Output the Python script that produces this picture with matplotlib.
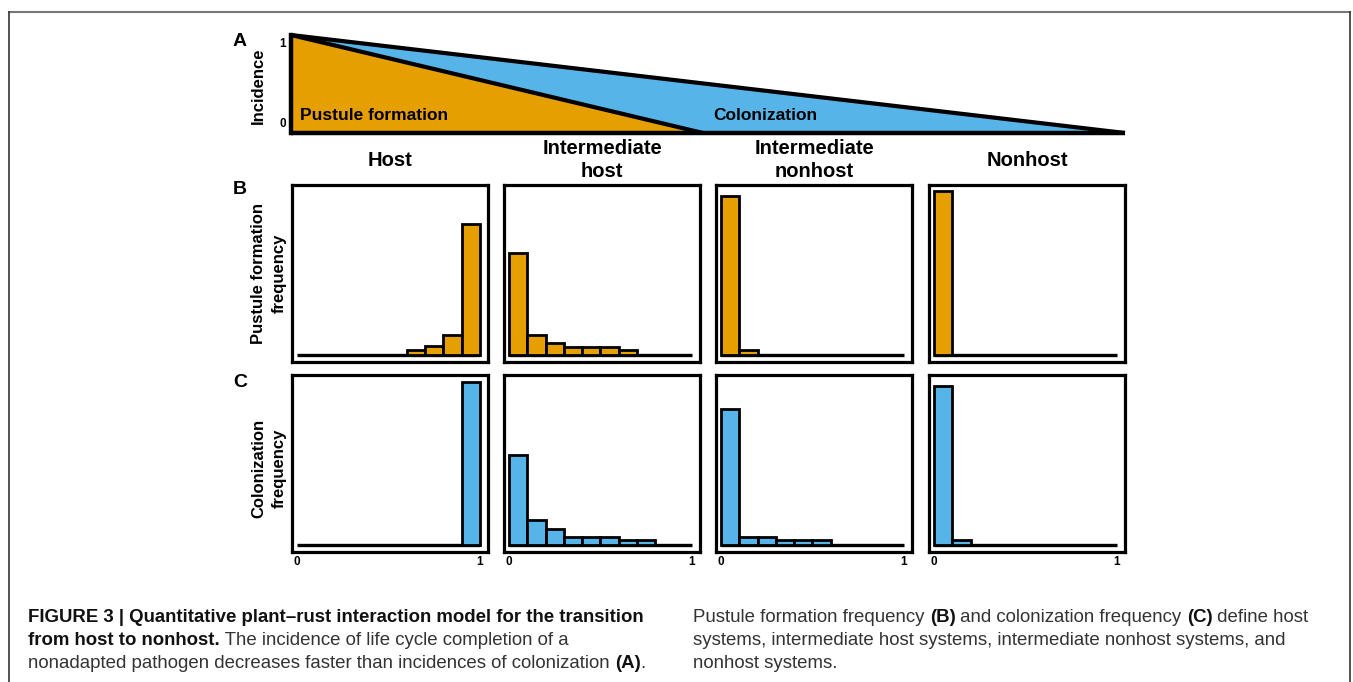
import numpy as np
import matplotlib
matplotlib.use("Agg")
import matplotlib.pyplot as plt
from matplotlib.lines import Line2D

plt.rcParams['font.family'] = ['Liberation Sans', 'DejaVu Sans']

# data
columns = ["Host", "Intermediate\nhost", "Intermediate\nnonhost", "Nonhost"]
bin_edges = np.linspace(0, 1, 11)

# panel A: incidence falls from 1 to 0
pustule_x = [0, 0.494]
pustule_y = [1, 0]
colonization_x = [0, 1]
colonization_y = [1, 0]

# panel B: pustule formation frequency per bin (10 bins, 0..1)
pustule_freq = [
    [0, 0, 0, 0, 0, 0, 0.03, 0.055, 0.12, 0.80],
    [0.62, 0.12, 0.075, 0.05, 0.05, 0.05, 0.03, 0, 0, 0],
    [0.97, 0.03, 0, 0, 0, 0, 0, 0, 0, 0],
    [1.0, 0, 0, 0, 0, 0, 0, 0, 0, 0],
]
# panel C: colonization frequency per bin
colonization_freq = [
    [0, 0, 0, 0, 0, 0, 0, 0, 0, 0.995],
    [0.55, 0.15, 0.10, 0.05, 0.05, 0.05, 0.03, 0.03, 0, 0],
    [0.83, 0.05, 0.05, 0.03, 0.03, 0.03, 0, 0, 0, 0],
    [0.97, 0.03, 0, 0, 0, 0, 0, 0, 0, 0],
]

orange = "#E69F00"
blue = "#56B4E9"

W, H = 1353, 682
fig = plt.figure(figsize=(W / 100, H / 100), dpi=100)


def box(x0, y0, x1, y1):
    return [x0 / W, 1 - y1 / H, (x1 - x0) / W, (y1 - y0) / H]


def ftext(x, y, s, **kw):
    return fig.text(x / W, 1 - y / H, s, **kw)


# outer frame of the figure page
fig.add_artist(Line2D([9 / W, 1350 / W], [1 - 12 / H, 1 - 12 / H], color="#777777", lw=1.5))
fig.add_artist(Line2D([9 / W, 9 / W], [1 - 12 / H, 0], color="#333333", lw=1.2))
fig.add_artist(Line2D([1350 / W, 1350 / W], [1 - 12 / H, 0], color="#333333", lw=1.2))

# ---- panel A
axA = fig.add_axes(box(291, 35, 1125, 133))
axA.set_xlim(0, 1)
axA.set_ylim(0, 1)
axA.axis("off")
axA.fill([colonization_x[0], colonization_x[1], pustule_x[1]],
         [colonization_y[0], colonization_y[1], pustule_y[1]], color=blue, lw=0)
axA.fill([pustule_x[0], pustule_x[1], 0], [pustule_y[0], pustule_y[1], 0], color=orange, lw=0)
axA.plot(colonization_x, colonization_y, color="black", lw=3, clip_on=False, solid_capstyle="butt")
axA.plot(pustule_x, pustule_y, color="black", lw=3, clip_on=False, solid_capstyle="butt")
axA.plot([0, 1], [0, 0], color="black", lw=3.2, clip_on=False, solid_capstyle="butt")
axA.plot([0, 0], [0, 1], color="black", lw=3.2, clip_on=False, solid_capstyle="projecting")
axA.text(-0.006, 0.97, "1", ha="right", va="top", fontsize=8.5, fontweight="bold", transform=axA.transAxes)
axA.text(-0.006, 0.09, "0", ha="right", va="center", fontsize=8.5, fontweight="bold", transform=axA.transAxes)
ftext(300, 115, "Pustule formation", ha="left", va="center", fontsize=12.5, fontweight="bold")
ftext(713, 115, "Colonization", ha="left", va="center", fontsize=12.5, fontweight="bold")
ftext(258, 86, "Incidence", ha="center", va="center", rotation=90, fontsize=12, fontweight="bold")
ftext(240, 41, "A", ha="center", va="center", fontsize=14, fontweight="bold")

# ---- column titles
col_left = [292, 504, 716, 929]
for x0, name in zip(col_left, columns):
    ftext(x0 + 98, 160, name, ha="center", va="center", fontsize=14.5,
          fontweight="bold", linespacing=1.25)

# ---- panels B and C
rows = [(185, 362, pustule_freq, orange), (375, 552, colonization_freq, blue)]
for r, (top, bottom, freqs, colour) in enumerate(rows):
    for c, x0 in enumerate(col_left):
        ax = fig.add_axes(box(x0, top, x0 + 196, bottom))
        ax.set_xlim(-0.027, 1.044)
        ax.set_ylim(-0.043, 1.037)
        heights = np.array(freqs[c])
        nz = heights > 0
        ax.plot([0, 1], [0, 0], color="black", lw=2.4, solid_capstyle="butt", zorder=1)
        ax.bar(bin_edges[:-1][nz], heights[nz], width=0.1, align="edge",
               color=colour, edgecolor="black", linewidth=2, zorder=2)
        for sp in ax.spines.values():
            sp.set_linewidth(2.3)
        ax.set_yticks([])
        if r == 1:
            ax.set_xticks([0, 1])
            ax.set_xticklabels(["0", "1"], fontsize=8.5, fontweight="bold")
            ax.tick_params(axis="x", length=0, pad=3)
        else:
            ax.set_xticks([])

ftext(240, 190, "B", ha="center", va="center", fontsize=14, fontweight="bold")
ftext(269, 273, "Pustule formation\nfrequency", ha="center", va="center", rotation=90,
      fontsize=12, fontweight="bold", linespacing=1.5)
ftext(240, 383, "C", ha="center", va="center", fontsize=14, fontweight="bold")
ftext(269, 468, "Colonization\nfrequency", ha="center", va="center", rotation=90,
      fontsize=12, fontweight="bold", linespacing=1.5)

# ---- caption, with bold and regular pieces on each line
renderer = fig.canvas.get_renderer()
cap_size = 13.4


def caption_line(x, y, pieces):
    for s, bold in pieces:
        t = ftext(x, y, s, ha="left", va="center", fontsize=cap_size,
                  fontweight="bold" if bold else "normal",
                  color="#111111" if bold else "#333333")
        x += t.get_window_extent(renderer).width


left_lines = [
    [("FIGURE 3 | Quantitative plant\u2013rust interaction model for the transition", True)],
    [("from host to nonhost.", True), (" The incidence of life cycle completion of a", False)],
    [("nonadapted pathogen decreases faster than incidences of colonization ", False), ("(A)", True), (".", False)],
]
right_lines = [
    [("Pustule formation frequency ", False), ("(B)", True), (" and colonization frequency ", False),
     ("(C)", True), (" define host", False)],
    [("systems, intermediate host systems, intermediate nonhost systems, and", False)],
    [("nonhost systems.", False)],
]
for i, pieces in enumerate(left_lines):
    caption_line(28, 617 + 23.5 * i, pieces)
for i, pieces in enumerate(right_lines):
    caption_line(693, 617 + 23.5 * i, pieces)

fig.savefig("out.png", dpi=100)
